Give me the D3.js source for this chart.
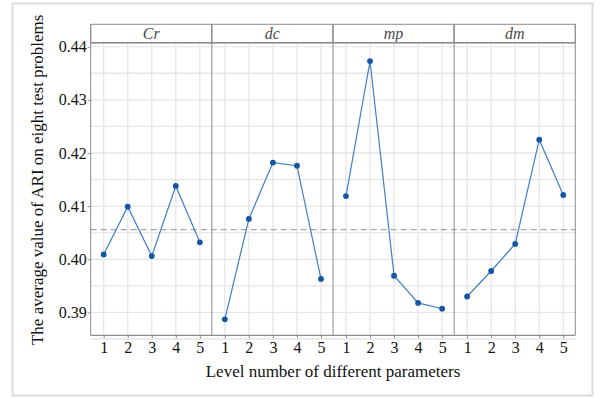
<!DOCTYPE html>
<html><head><meta charset="utf-8">
<script src="https://cdn.jsdelivr.net/npm/d3@7"></script>
<style>
html,body{margin:0;padding:0;background:#fff;}
svg{display:block;}
text{font-family:"Liberation Serif","Times New Roman",serif;}
</style></head>
<body>
<svg id="c" width="606" height="399"></svg>
<script>
const params = ["Cr","dc","mp","dm"];
const levels = [1,2,3,4,5];
const valCr = [0.4009,0.4099,0.4006,0.4138,0.4032];
const valDc = [0.3887,0.4076,0.4182,0.4176,0.3963];
const valMp = [0.4119,0.4373,0.3969,0.3918,0.3907];
const valDm = [0.3930,0.3978,0.4029,0.4225,0.4121];
const meanLine = 0.4056;
const yTicks = [0.39,0.40,0.41,0.42,0.43,0.44];
const yMinor = [0.385,0.395,0.405,0.415,0.425,0.435];
const series = [valCr,valDc,valMp,valDm];
const SERIF = "'Liberation Serif','Times New Roman',serif";

const svg = d3.select("#c");
svg.append("rect").attr("x",12.5).attr("y",3.5).attr("width",580).attr("height",392)
  .attr("fill","none").attr("stroke","#dcdcdc").attr("stroke-width",2);

const pLeft=90.7, pRight=575.3, pStrip=24.3, stripH=18.4, pBottom=335.3;
const pTop = pStrip+stripH;
const pw = (pRight-pLeft)/params.length;
const y = d3.scaleLinear().domain([0.3857,0.44075]).range([pBottom,pTop]);

const grid="#e6e6e6", border="#8c8c8c";

params.forEach((p,i)=>{
  const x0 = pLeft + i*pw;
  const x = d3.scaleLinear().domain([0.46,5.5]).range([x0,x0+pw]);
  const g = svg.append("g");
  g.selectAll(".hm").data(yMinor).enter().append("line")
    .attr("x1",x0).attr("x2",x0+pw).attr("y1",d=>y(d)).attr("y2",d=>y(d))
    .attr("stroke",grid).attr("stroke-width",1.3);
  g.selectAll(".hM").data(yTicks).enter().append("line")
    .attr("x1",x0).attr("x2",x0+pw).attr("y1",d=>y(d)).attr("y2",d=>y(d))
    .attr("stroke",grid).attr("stroke-width",1.3);
  g.selectAll(".v").data(levels).enter().append("line")
    .attr("x1",d=>x(d)).attr("x2",d=>x(d)).attr("y1",pTop).attr("y2",pBottom)
    .attr("stroke",grid).attr("stroke-width",1.3);
  const xa = svg.append("g").attr("transform",`translate(0,${pBottom})`)
    .call(d3.axisBottom(x).tickValues(levels).tickSize(3).tickPadding(3).tickFormat(d3.format("d")));
  xa.attr("font-family",null).attr("font-size",null);
  xa.select(".domain").remove();
  xa.selectAll(".tick line").attr("stroke",border);
  xa.selectAll("text").style("font-size","16px").style("fill","#111")
    .style("font-family",SERIF);
  svg.append("rect").attr("x",x0).attr("y",pStrip).attr("width",pw).attr("height",stripH)
    .attr("fill","#fff").attr("stroke",border).attr("stroke-width",1);
  svg.append("text").attr("x",x0+pw/2).attr("y",pStrip+stripH/2+5)
    .attr("text-anchor","middle").style("font-size","16px").attr("font-style","italic")
    .attr("fill","#4a4a4a").text(p);
});

svg.append("line").attr("x1",pLeft).attr("x2",pRight).attr("y1",y(meanLine)).attr("y2",y(meanLine))
  .attr("stroke","#a8a8a8").attr("stroke-width",1.2).attr("stroke-dasharray","6,4");

params.forEach((p,i)=>{
  const x0 = pLeft + i*pw;
  const x = d3.scaleLinear().domain([0.46,5.5]).range([x0,x0+pw]);
  const vals = series[i];
  const line = d3.line().x((d,j)=>x(levels[j])).y(d=>y(d));
  svg.append("path").attr("d",line(vals)).attr("fill","none")
    .attr("stroke","#3f7fc6").attr("stroke-width",1.2);
  svg.selectAll(null).data(vals).enter().append("circle")
    .attr("cx",(d,j)=>x(levels[j])).attr("cy",d=>y(d)).attr("r",2.9)
    .attr("fill","#1455a4");
});

for(let i=0;i<=params.length;i++){
  const xx = pLeft + i*pw;
  svg.append("line").attr("x1",xx).attr("x2",xx).attr("y1",pStrip).attr("y2",pBottom)
    .attr("stroke",border).attr("stroke-width",1);
}
svg.append("line").attr("x1",pLeft).attr("x2",pRight).attr("y1",pBottom).attr("y2",pBottom)
  .attr("stroke",border).attr("stroke-width",1.2);
svg.append("line").attr("x1",pLeft).attr("x2",pRight).attr("y1",pTop).attr("y2",pTop)
  .attr("stroke",border).attr("stroke-width",1.6);

const ya = svg.append("g").attr("transform",`translate(${pLeft},0)`)
  .call(d3.axisLeft(y).tickValues(yTicks).tickSize(3).tickPadding(1).tickFormat(d3.format(".2f")));
ya.attr("font-family",null).attr("font-size",null);
ya.select(".domain").remove();
ya.selectAll(".tick line").attr("stroke",border);
ya.selectAll("text").style("font-size","16px").style("fill","#111")
  .style("font-family",SERIF);

svg.append("text").attr("x",(pLeft+pRight)/2).attr("y",377).attr("text-anchor","middle")
  .style("font-size","17px").attr("fill","#111").text("Level number of different parameters");
svg.append("text").attr("transform",`translate(43,${(pStrip+pBottom)/2}) rotate(-90)`)
  .attr("text-anchor","middle").style("font-size","17px").attr("fill","#111")
  .text("The average value of ARI on eight test problems");
</script>
</body></html>
